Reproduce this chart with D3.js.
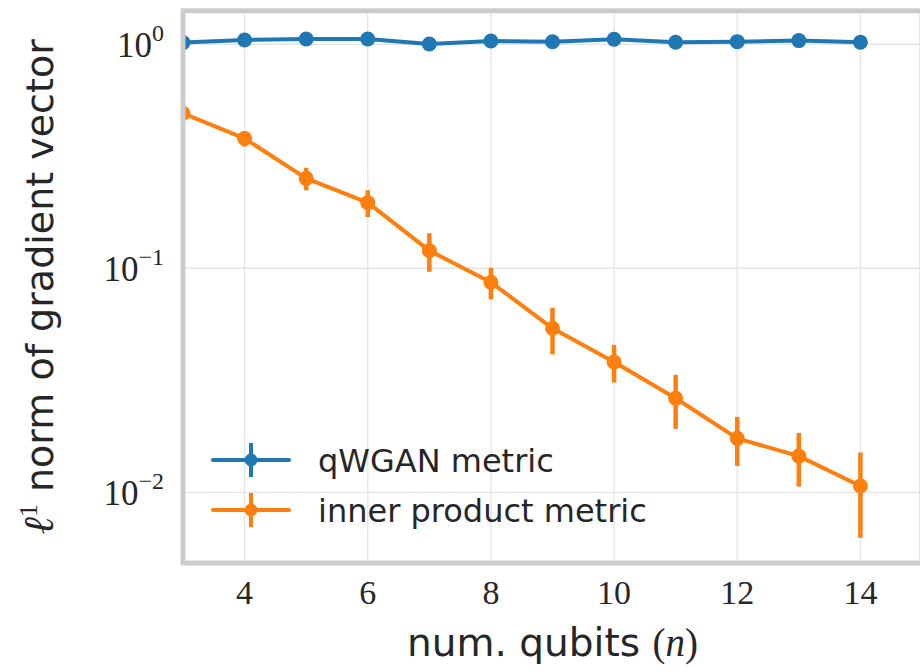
<!DOCTYPE html>
<html>
<head>
<meta charset="utf-8">
<script src="https://cdn.jsdelivr.net/npm/d3@7"></script>
<style>
  html, body { margin: 0; padding: 0; background: #fff; }
  svg { display: block; }
</style>
</head>
<body>
<div id="chart"></div>
<script>
// ---- data ----
const qubits = [3, 4, 5, 6, 7, 8, 9, 10, 11, 12, 13, 14];
const qwganMean = [1.017, 1.045, 1.056, 1.056, 1.003, 1.034, 1.026, 1.053, 1.021, 1.027, 1.038, 1.021];
const qwganErr  = [0.01, 0.01, 0.01, 0.01, 0.01, 0.01, 0.01, 0.01, 0.01, 0.01, 0.01, 0.01];
const innerMean = [0.492, 0.380, 0.252, 0.1963, 0.1199, 0.0866, 0.0540, 0.0382, 0.0263, 0.01742, 0.01452, 0.01067];
const innerErr  = [0.02, 0.030, 0.029, 0.027, 0.0234, 0.0139, 0.0127, 0.0073, 0.0071, 0.0043, 0.0039, 0.0044];
const xTicks = [4, 6, 8, 10, 12, 14];
const yTicks = [1, 0.1, 0.01];
const yTickExp = ["0", "\u22121", "\u22122"];
const seriesNames = ["qWGAN metric", "inner product metric"];
const seriesColors = ["#1f77b4", "#ff7f0e"];
const xDomain = [3, 15];
const yDomain = [0.00484, 1.41];

(function () {
// ---- layout ----
const W = 920, H = 672;
const pL = 183, pR = 922, pT = 10.8, pB = 563;
const textColor = "#262626";

const svg = d3.select("#chart").append("svg").attr("width", W).attr("height", H);

const x = d3.scaleLinear().domain(xDomain).range([pL, pR]);
const y = d3.scaleLog().domain(yDomain).range([pB, pT]);

svg.append("defs").append("clipPath").attr("id", "plotclip")
  .append("rect").attr("x", pL).attr("y", pT)
  .attr("width", pR - pL).attr("height", pB - pT);

// grid
const grid = svg.append("g");
grid.selectAll("line.vx").data(xTicks).enter().append("line")
  .attr("x1", d => x(d)).attr("x2", d => x(d))
  .attr("y1", pT).attr("y2", pB)
  .attr("stroke", "#e5e5e5").attr("stroke-width", 1.4);
grid.selectAll("line.hy").data(yTicks).enter().append("line")
  .attr("x1", pL).attr("x2", pR)
  .attr("y1", d => y(d)).attr("y2", d => y(d))
  .attr("stroke", "#e5e5e5").attr("stroke-width", 1.4);

// series
const series = [
  { name: seriesNames[0], color: seriesColors[0], mean: qwganMean, err: qwganErr },
  { name: seriesNames[1], color: seriesColors[1], mean: innerMean, err: innerErr }
];

const plot = svg.append("g").attr("clip-path", "url(#plotclip)");
const line = d3.line().x(d => x(d.n)).y(d => y(d.v));

series.forEach(s => {
  const pts = qubits.map((n, i) => ({ n, v: s.mean[i], e: s.err[i] }));
  const g = plot.append("g");
  g.append("path").datum(pts).attr("d", line)
    .attr("fill", "none").attr("stroke", s.color).attr("stroke-width", 4)
    .attr("stroke-linejoin", "round");
  g.selectAll("line.err").data(pts).enter().append("line")
    .attr("x1", d => x(d.n)).attr("x2", d => x(d.n))
    .attr("y1", d => y(d.v + d.e)).attr("y2", d => y(Math.max(d.v - d.e, 1e-6)))
    .attr("stroke", s.color).attr("stroke-width", 4.5);
  g.selectAll("circle").data(pts).enter().append("circle")
    .attr("cx", d => x(d.n)).attr("cy", d => y(d.v)).attr("r", 7.5)
    .attr("fill", s.color);
});

// frame
svg.append("rect").attr("x", pL).attr("y", pT)
  .attr("width", pR - pL).attr("height", pB - pT)
  .attr("fill", "none").attr("stroke", "#cccccc").attr("stroke-width", 5);

// x tick labels
svg.append("g").selectAll("text").data(xTicks).enter().append("text")
  .attr("x", d => x(d)).attr("y", 604)
  .attr("text-anchor", "middle")
  .attr("font-family", "'Liberation Serif', serif").attr("font-size", 34)
  .attr("fill", textColor)
  .text(d => d);

// y tick labels
const yl = svg.append("g").selectAll("text").data(yTicks).enter().append("text")
  .attr("x", 164).attr("y", d => y(d) + 13)
  .attr("text-anchor", "end")
  .attr("font-family", "'Liberation Serif', serif").attr("font-size", 35)
  .attr("fill", textColor);
yl.append("tspan").text("10");
yl.append("tspan").attr("dy", -16).attr("font-size", 24).text((d, i) => yTickExp[i]);

// axis labels
const xl = svg.append("text")
  .attr("x", (pL + pR) / 2).attr("y", 656)
  .attr("text-anchor", "middle")
  .attr("font-family", "'DejaVu Sans', sans-serif").attr("font-size", 39)
  .attr("fill", textColor);
xl.append("tspan").text("num. qubits ");
xl.append("tspan").attr("font-family", "'Liberation Serif', serif").text("(");
xl.append("tspan").attr("font-family", "'Liberation Serif', serif").attr("font-style", "italic").text("n");
xl.append("tspan").attr("font-family", "'Liberation Serif', serif").text(")");

const ylab = svg.append("text")
  .attr("transform", `translate(53, ${(pT + pB) / 2}) rotate(-90)`)
  .attr("text-anchor", "middle")
  .attr("font-family", "'DejaVu Sans', sans-serif").attr("font-size", 38)
  .attr("fill", textColor);
ylab.append("tspan").attr("font-family", "'Liberation Serif', serif").attr("font-style", "italic").attr("font-size", 42).text("\u2113");
ylab.append("tspan").attr("font-family", "'Liberation Serif', serif").attr("font-size", 26).attr("dy", -16).text("1");
ylab.append("tspan").attr("dy", 16).text(" norm of gradient vector");

// legend
const legY = [460, 510];
const leg = svg.append("g");
series.forEach((s, i) => {
  const g = leg.append("g");
  g.append("line").attr("x1", 213).attr("x2", 289).attr("y1", legY[i]).attr("y2", legY[i])
    .attr("stroke", s.color).attr("stroke-width", 4).attr("stroke-linecap", "round");
  g.append("line").attr("x1", 251).attr("x2", 251).attr("y1", legY[i] - 17).attr("y2", legY[i] + 17)
    .attr("stroke", s.color).attr("stroke-width", 4);
  g.append("circle").attr("cx", 251).attr("cy", legY[i]).attr("r", 6.5).attr("fill", s.color);
  g.append("text").attr("x", 318).attr("y", legY[i] + 12)
    .attr("font-family", "'DejaVu Sans', sans-serif").attr("font-size", 32)
    .attr("fill", textColor)
    .text(s.name);
});
})();
</script>
</body>
</html>
